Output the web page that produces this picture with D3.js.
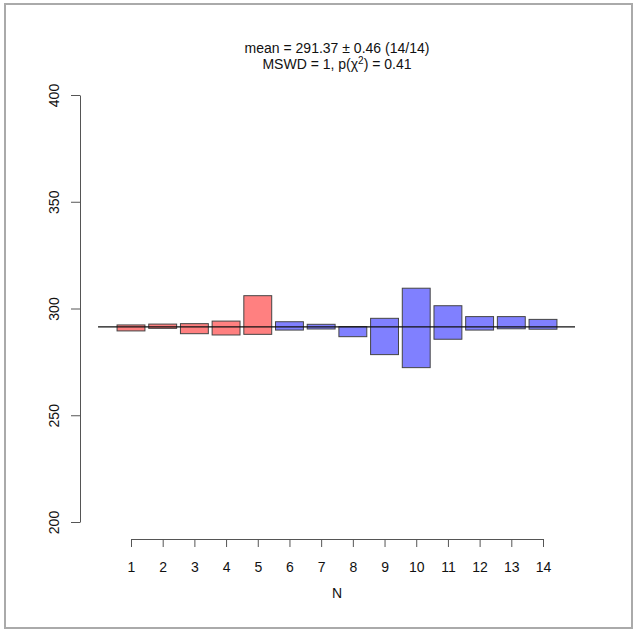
<!DOCTYPE html>
<html>
<head>
<meta charset="utf-8">
<script src="https://cdn.jsdelivr.net/npm/d3@7"></script>
<style>
  body { margin: 0; background: #fff; }
  text { font-family: "Liberation Sans", Arial, sans-serif; fill: #111; }
</style>
</head>
<body>
<div class="chart"></div>
<script>
// aliquot ages with their 1-sigma half widths
const aliquots = [1, 2, 3, 4, 5, 6, 7, 8, 9, 10, 11, 12, 13, 14];
const ages     = [290.9, 291.7, 290.55, 290.85, 296.95, 291.85, 291.5, 289.15, 286.9, 290.9, 293.45, 293.05, 293.35, 292.6];
const errors   = [1.4, 1.0, 2.35, 3.25, 9.05, 1.95, 1.1, 2.35, 8.5, 18.6, 7.85, 3.15, 2.85, 2.3];
const groups   = ['a', 'a', 'a', 'a', 'a', 'b', 'b', 'b', 'b', 'b', 'b', 'b', 'b', 'b'];
const yTicks   = [200, 250, 300, 350, 400];
const meanAge  = 291.37;

const width = 635, height = 630;

const svg = d3.select('.chart').append('svg')
    .attr('width', width)
    .attr('height', height);

// outer frame
svg.append('rect')
    .attr('x', 5).attr('y', 4)
    .attr('width', 627).attr('height', 624)
    .attr('fill', 'none')
    .attr('stroke', '#aaa')
    .attr('stroke-width', 2);

const x = d3.scaleLinear().domain([1, 14]).range([131, 543]);
const y = d3.scaleLinear().domain([200, 400]).range([522, 95]);
const fill = d3.scaleOrdinal().domain(['a', 'b']).range(['#ff8080', '#8080ff']);

const half = 0.44;

// boxes
svg.selectAll('rect.bar')
    .data(aliquots)
  .enter().append('rect')
    .attr('class', 'bar')
    .attr('x', (d) => x(d - half))
    .attr('width', (d) => x(d + half) - x(d - half))
    .attr('y', (d, i) => y(ages[i] + errors[i]))
    .attr('height', (d, i) => y(ages[i] - errors[i]) - y(ages[i] + errors[i]))
    .attr('fill', (d, i) => fill(groups[i]))
    .attr('stroke', '#444')
    .attr('stroke-width', 1);

// weighted mean line
svg.append('line')
    .attr('x1', x(-0.04)).attr('x2', x(15.01))
    .attr('y1', y(meanAge)).attr('y2', y(meanAge))
    .attr('stroke', '#111')
    .attr('stroke-width', 1.2);

// y axis
const yAxis = svg.append('g')
    .attr('transform', 'translate(80,0)')
    .call(d3.axisLeft(y).tickValues(yTicks).tickSize(9).tickSizeOuter(0));
yAxis.select('.domain').attr('stroke', '#555');
yAxis.selectAll('.tick line').attr('stroke', '#555');
yAxis.selectAll('.tick text')
    .attr('font-size', 14)
    .attr('x', 0).attr('dy', 0)
    .attr('text-anchor', 'middle')
    .attr('transform', 'translate(-21,0) rotate(-90)');

// x axis
const xAxis = svg.append('g')
    .attr('transform', 'translate(0,539)')
    .call(d3.axisBottom(x).tickValues(aliquots).tickFormat(d3.format('d')).tickSize(8).tickSizeOuter(0));
xAxis.select('.domain').attr('stroke', '#555');
xAxis.selectAll('.tick line').attr('stroke', '#555');
xAxis.selectAll('.tick text')
    .attr('font-size', 14)
    .attr('y', 23);

svg.append('text')
    .attr('x', 337).attr('y', 598)
    .attr('text-anchor', 'middle')
    .attr('font-size', 14)
    .text('N');

// title
svg.append('text')
    .attr('x', 337).attr('y', 53)
    .attr('text-anchor', 'middle')
    .attr('font-size', 14)
    .text('mean = 291.37 \u00B1 0.46 (14/14)');

const t2 = svg.append('text')
    .attr('x', 337).attr('y', 69)
    .attr('text-anchor', 'middle')
    .attr('font-size', 14);
t2.append('tspan').text('MSWD = 1, p(\u03C7');
t2.append('tspan').attr('dy', -5).attr('font-size', 10).text('2');
t2.append('tspan').attr('dy', 5).text(') = 0.41');
</script>
</body>
</html>
